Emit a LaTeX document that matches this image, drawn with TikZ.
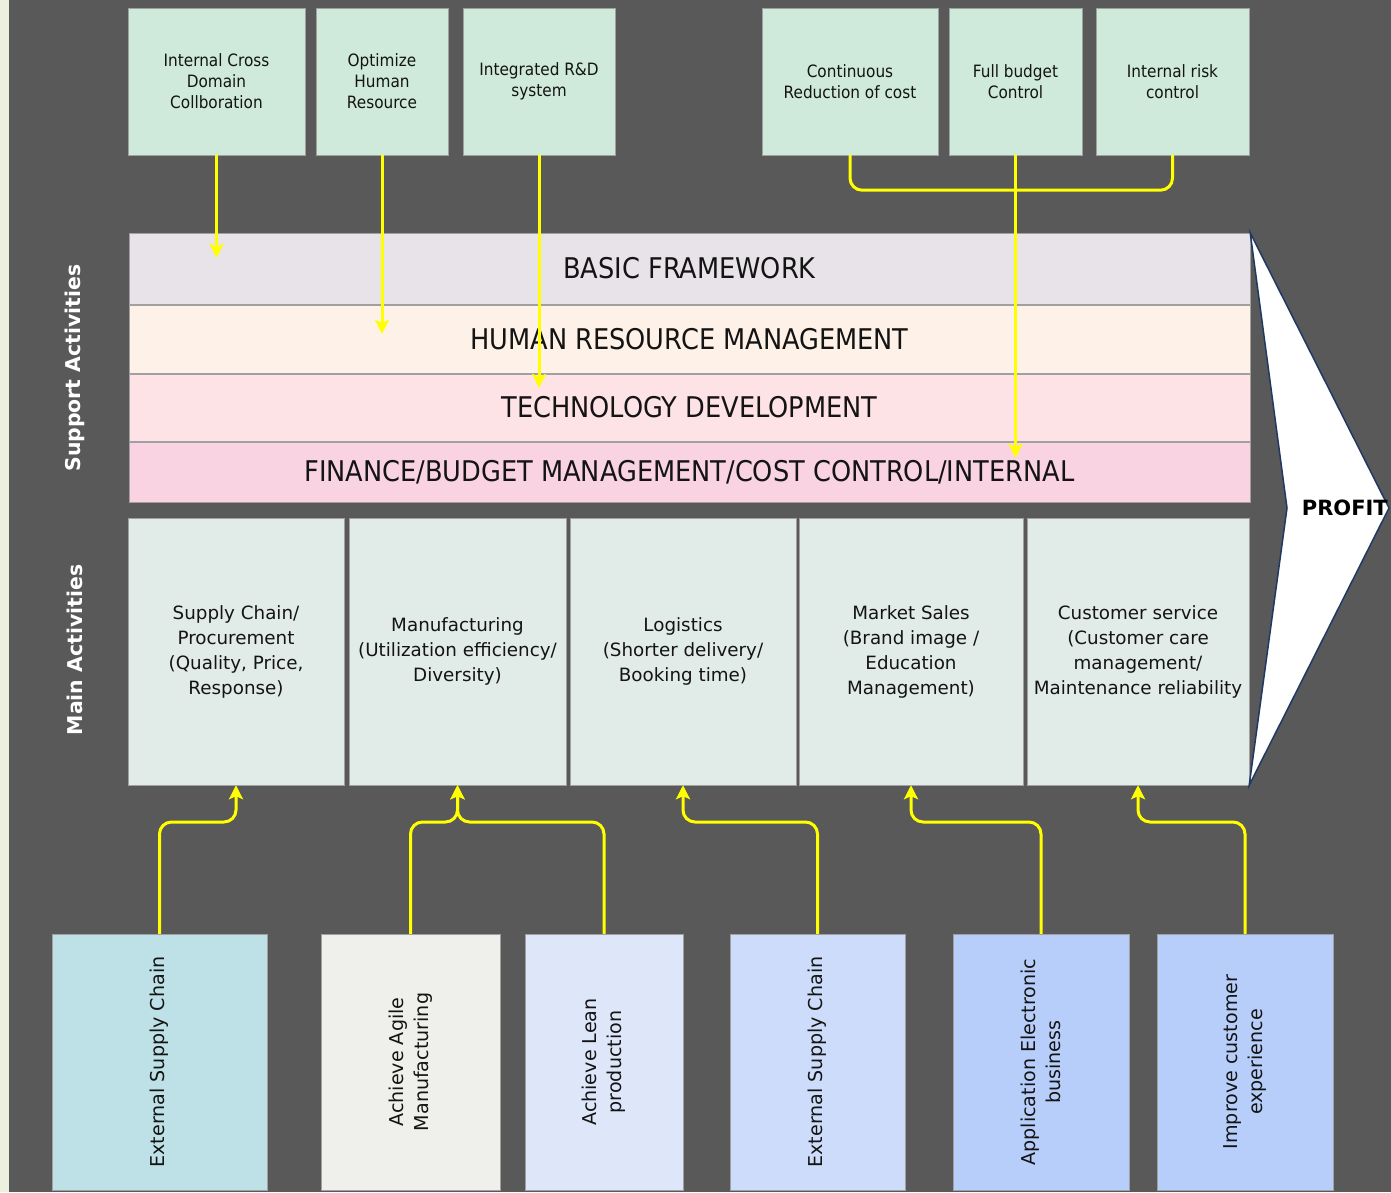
\documentclass[tikz,border=0pt]{standalone}
\usepackage{fontspec}
\setmainfont{DejaVu Sans}
\newfontfamily\estrecha{DejaVu Sans Condensed}
\usetikzlibrary{arrows.meta,positioning,calc}
\definecolor{fondo}{RGB}{89,89,89}
\definecolor{orilla}{RGB}{236,240,222}
\definecolor{borde}{RGB}{160,160,160}
\definecolor{tinta}{RGB}{20,20,20}
\definecolor{menta}{RGB}{207,234,218}
\definecolor{cbase}{RGB}{232,227,232}
\definecolor{crh}{RGB}{254,242,232}
\definecolor{ctec}{RGB}{253,226,230}
\definecolor{cfin}{RGB}{249,211,226}
\definecolor{cact}{RGB}{225,235,231}
\definecolor{cs1}{RGB}{190,225,231}
\definecolor{cs2}{RGB}{239,239,235}
\definecolor{cs3}{RGB}{222,230,250}
\definecolor{cs4}{RGB}{205,220,250}
\definecolor{cs5}{RGB}{183,205,250}
\definecolor{marino}{RGB}{31,56,100}
\definecolor{amarillo}{RGB}{255,255,0}
\tikzset{
  goal/.style={draw=borde, fill=menta, align=center, minimum height=147pt, inner sep=2pt, text=tinta, font=\estrecha\fontsize{17}{21}\selectfont},
  band/.style={draw=borde, minimum width=1121pt, align=center, inner sep=0pt, text=tinta, font=\estrecha\fontsize{28.5}{32}\selectfont},
  act/.style={draw=borde, fill=cact, minimum height=267pt, align=center, inner sep=2pt, text=tinta, font=\fontsize{18.3}{25}\selectfont},
  src/.style={draw=borde, rotate=90, minimum width=256pt, align=center, inner sep=2pt, text=tinta, font=\fontsize{19.1}{25}\selectfont},
  lado/.style={rotate=90, text=white, font=\bfseries\fontsize{20.4}{24}\selectfont},
  ln/.style={line width=3pt, amarillo, rounded corners=12pt},
  fl/.style={ln, -{Stealth[length=14pt,width=14pt,inset=3pt]}},
}

\begin{document}
\begin{tikzpicture}[x=1pt,y=-1pt]
  \useasboundingbox (0,0) rectangle (1391,1192);
  \fill[fondo] (0,0) rectangle (1391,1192);
  \fill[orilla] (0,0) rectangle (9,1192);

  % objetivos arriba
  \node[goal, minimum width=177pt] (t1) at (216.5,81.5) {Internal Cross\\Domain\\Collboration};
  \node[goal, minimum width=132pt] (t2) at (382,81.5) {Optimize\\Human\\Resource};
  \node[goal, minimum width=152pt] (t3) at (539,81.5) {Integrated R\&D\\system};
  \node[goal, minimum width=176pt] (t4) at (850,81.5) {Continuous\\Reduction of cost};
  \node[goal, minimum width=133pt] (t5) at (1015.5,81.5) {Full budget\\Control};
  \node[goal, minimum width=153pt] (t6) at (1172.5,81.5) {Internal risk\\control};

  % actividades de apoyo
  \node[band, fill=cbase, minimum height=71pt] (base) at (689.5,268.5) {BASIC FRAMEWORK};
  \node[band, fill=crh, minimum height=68pt] (rh) at (689.5,339) {HUMAN RESOURCE MANAGEMENT};
  \node[band, fill=ctec, minimum height=67pt] (tec) at (689.5,407.5) {TECHNOLOGY DEVELOPMENT};
  \node[band, fill=cfin, minimum height=60pt] (fin) at (689.5,472) {FINANCE/BUDGET MANAGEMENT/COST CONTROL/INTERNAL};

  % actividades principales
  \node[act, minimum width=216pt] (m1) at (236,651.5) {Supply Chain/\\Procurement\\(Quality, Price,\\Response)};
  \node[act, minimum width=217pt] (m2) at (457.5,651.5) {Manufacturing\\(Utilization efficiency/\\Diversity)};
  \node[act, minimum width=226pt] (m3) at (683,651.5) {Logistics\\(Shorter delivery/\\Booking time)};
  \node[act, minimum width=224pt] (m4) at (911,651.5) {Market Sales\\(Brand image /\\Education\\Management)};
  \node[act, minimum width=222pt] (m5) at (1138,651.5) {Customer service\\(Customer care\\management/\\Maintenance reliability};

  \node[lado] (sup) at (75,368) {Support Activities};
  \node[lado] (pri) at (75,650) {Main Activities};

  % flecha de beneficio
  \draw[marino, fill=white, line width=1.5pt] (base.north east) -- (1389,508) -- (m5.south east) -- (1287,508) -- cycle;
  \node[anchor=east, inner sep=1pt, font=\bfseries\fontsize{21}{24}\selectfont] (profit) at (1389,508) {PROFIT};

  % estrategias abajo
  \node[src, fill=cs1, minimum height=215pt] (s1) at (159.5,1062) {External Supply Chain};
  \node[src, fill=cs2, minimum height=179pt] (s2) at (410.5,1062) {Achieve Agile\\Manufacturing};
  \node[src, fill=cs3, minimum height=158pt] (s3) at (604,1062) {Achieve Lean\\production};
  \node[src, fill=cs4, minimum height=175pt] (s4) at (817.5,1062) {External Supply Chain};
  \node[src, fill=cs5, minimum height=176pt] (s5) at (1041,1062) {Application Electronic\\business};
  \node[src, fill=cs5, minimum height=176pt] (s6) at (1245,1062) {Improve customer\\experience};

  % conectores de arriba
  \draw[fl] (t1.south) -- ($(t1.south |- base.north)+(0,25)$);
  \draw[fl] (t2.south) -- ($(t2.south |- rh.north)+(0,29)$);
  \draw[fl] (t3.south) -- ($(t3.south |- tec.north)+(0,14)$);
  \draw[ln] (t4.south) |- ($(t5.south)+(0,35)$) -| (t6.south);
  \draw[fl] (t5.south) -- ($(t5.south |- fin.north)+(0,16)$);

  % conectores de abajo
  \coordinate (bus) at (0,822);
  \draw[fl] (s1.east) |- (bus -| m1.south) -- (m1.south);
  \draw[fl] (s2.east) |- (bus -| m2.south) -- (m2.south);
  \draw[fl] (s3.east) |- (bus -| m2.south) -- (m2.south);
  \draw[fl] (s4.east) |- (bus -| m3.south) -- (m3.south);
  \draw[fl] (s5.east) |- (bus -| m4.south) -- (m4.south);
  \draw[fl] (s6.east) |- (bus -| m5.south) -- (m5.south);
\end{tikzpicture}
\end{document}
